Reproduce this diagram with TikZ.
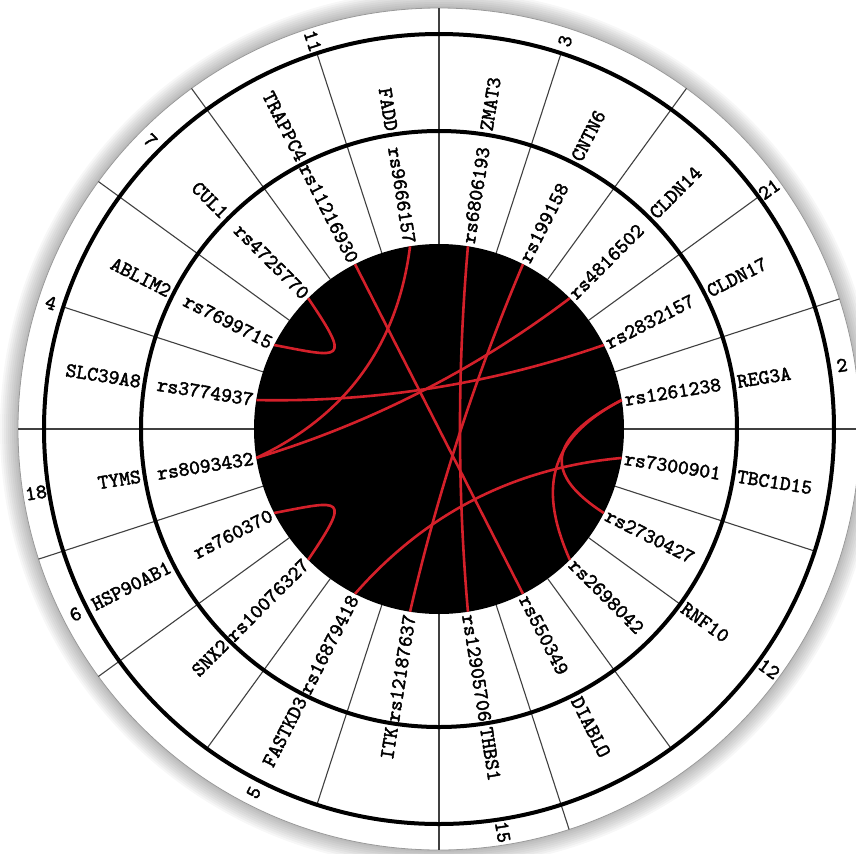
\documentclass[tikz,border=0pt]{standalone}
\usepackage{fontspec}
\newfontfamily\courfont{lmmono10-regular.otf}[FakeBold=2]
\usetikzlibrary{calc}
\definecolor{linkred}{RGB}{212,32,42}
\begin{document}
\begin{tikzpicture}[x=0.5pt,y=0.5pt,
  lbl/.style={font=\courfont\fontsize{10.3}{11}\selectfont, inner sep=0pt, outer sep=0pt},
  divider/.style={black!75, line width=0.55pt},
  thickring/.style={black, line width=2pt},
  link/.style={draw=linkred, line width=1.3pt},
]
\useasboundingbox (-439,-424) rectangle (417,429);
\clip (-439,-424) rectangle (417,429);
\fill[white] (-439,-424) rectangle (417,429);
\coordinate (O) at (0,0);
% soft shadow around the disc
\foreach \k in {18,16,...,2} \fill[black, opacity=0.03] (O) circle ({421+\k});
\fill[white] (O) circle (421);
\draw[black!40, line width=0.4pt] (O) circle (421);
% dividers
\foreach \c in {0,18,...,342} \draw[divider] ({90-\c}:185) -- ({90-\c}:298);
\foreach \c in {0,18,36,54,72,90,108,144,162,180,198,216,234,252,270,288,306,324,342}
  \draw[divider] ({90-\c}:298) -- ({90-\c}:395);
\foreach \c in {0,36,72,90,162,180,234,252,270,306,324}
  \draw[divider] ({90-\c}:395) -- ({90-\c}:421);
% rings
\draw[thickring] (O) circle (298);
\draw[thickring] (O) circle (395);
\fill[black] (O) circle (185);
% SNP anchors and labels
\foreach \name [count=\i from 0] in {rs6806193,rs199158,rs4816502,rs2832157,rs1261238,rs7300901,rs2730427,rs2698042,rs550349,rs12905706,rs12187637,rs16879418,rs10076327,rs760370,rs8093432,rs3774937,rs7699715,rs4725770,rs11216930,rs9666157}{
  \pgfmathsetmacro\ang{81-18*\i}
  \coordinate (s\i) at (\ang:185);
  \ifnum\i<10
    \node[lbl, anchor=west, rotate=\ang] (t\i) at (\ang:188) {\name};
  \else
    \node[lbl, anchor=east, rotate=\ang+180] (t\i) at (\ang:188) {\name};
  \fi
}
% gene labels
\foreach \g/\c in {ZMAT3/9,CNTN6/27,CLDN14/45,CLDN17/63,REG3A/81,TBC1D15/99,RNF10/126,DIABLO/153,THBS1/171,ITK/189,FASTKD3/207,SNX2/225,HSP90AB1/243,TYMS/261,SLC39A8/279,ABLIM2/297,CUL1/315,TRAPPC4/333,FADD/351}{
  \pgfmathsetmacro\ang{90-\c}
  \ifnum\c<180
    \node[lbl, anchor=west, rotate=\ang] (g-\g) at (\ang:302) {\g};
  \else
    \node[lbl, anchor=east, rotate=\ang+180] (g-\g) at (\ang:302) {\g};
  \fi
}
% chromosome labels
\foreach \n/\c in {3/18,21/54,2/81,12/126,15/171,5/207,6/243,18/261,4/288,7/315,11/342}{
  \pgfmathsetmacro\ang{90-\c}
  \ifnum\c<180
    \node[lbl, rotate=\ang] (c-\n) at (\ang:408) {\n};
  \else
    \node[lbl, rotate=\ang+180] (c-\n) at (\ang:408) {\n};
  \fi
}
% links bending toward the centre
\foreach \a/\b in {0/9,1/10,2/14,3/15,5/11,18/8,19/14}{
  \coordinate (m) at ($(s\a)!0.5!(s\b)$);
  \coordinate (q) at ($(m)!0.55!(O)$);
  \draw[link] (s\a) .. controls ($(s\a)!0.6667!(q)$) and ($(s\b)!0.6667!(q)$) .. (s\b);
}
\draw[link] (s13) .. controls (-97,-71) and (-87,-66) .. (s12);
\draw[link] (s16) .. controls (-97,71) and (-87,66) .. (s17);
\draw[link] (s4) .. controls (106,-11) and (106,-46) .. (s6);
\draw[link] (s4) .. controls (106,-11) and (101,-63) .. (s7);
\end{tikzpicture}
\end{document}
